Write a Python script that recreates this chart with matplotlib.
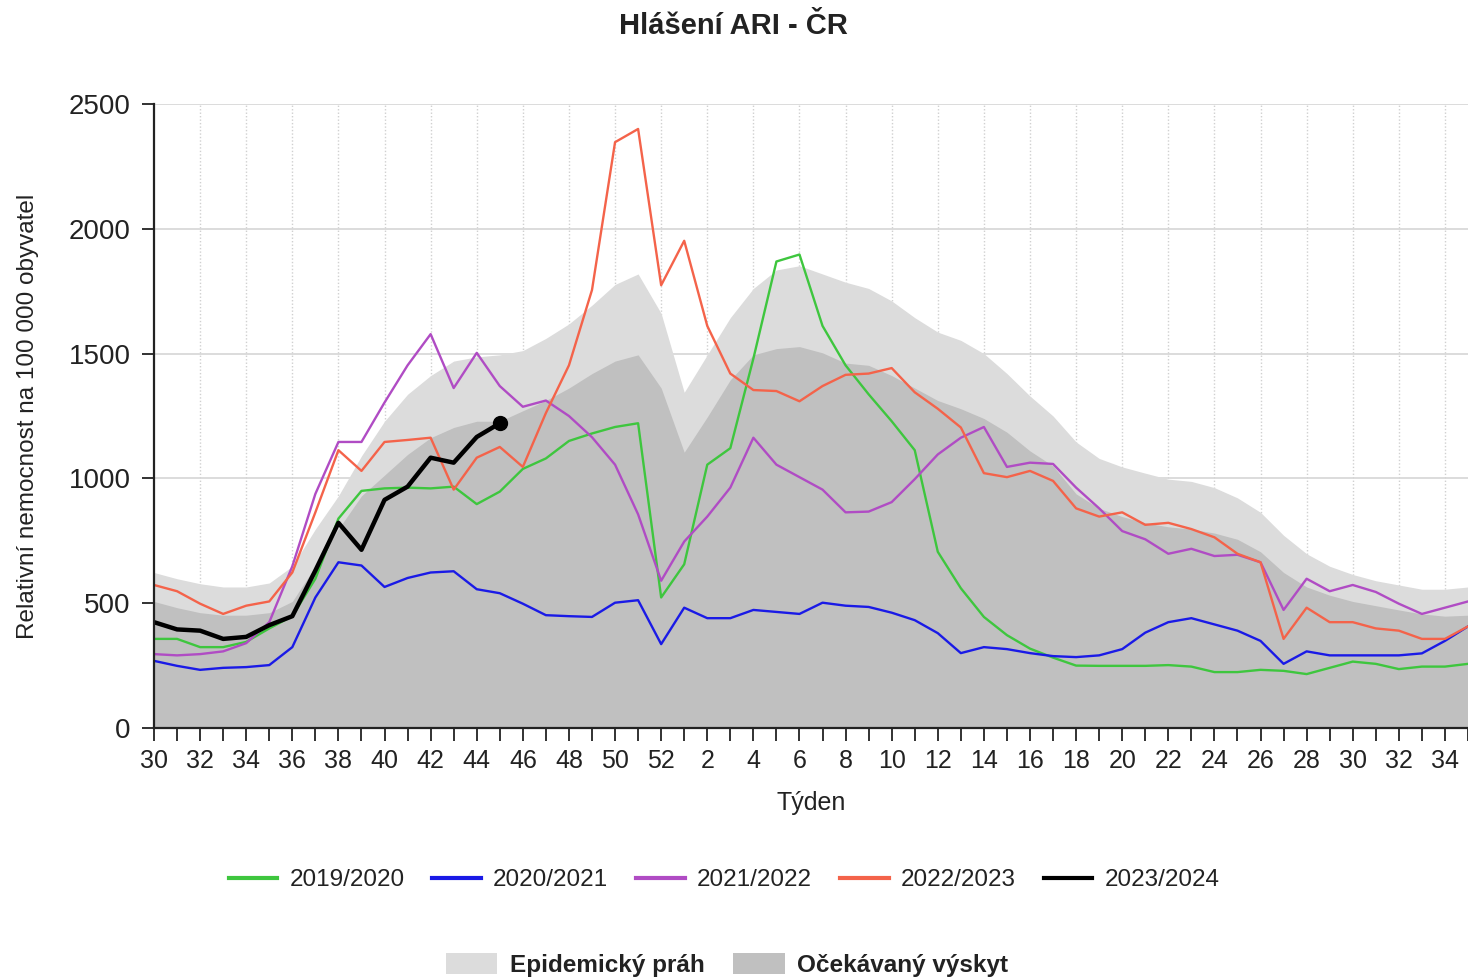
import numpy as np
import matplotlib
matplotlib.use("Agg")
import matplotlib.pyplot as plt
from matplotlib.lines import Line2D
from matplotlib.patches import Patch

plt.rcParams['font.family'] = ['Liberation Sans', 'DejaVu Sans']

# ---------------- data ----------------
weeks = list(range(30, 53)) + list(range(1, 36))

s2019 = [357, 357, 324, 324, 345, 399, 448, 598, 839, 950, 960, 963, 960, 967, 897, 947, 1038, 1080, 1150, 1180, 1206, 1221,
         523, 656, 1055, 1121, 1480, 1869, 1897, 1611, 1453, 1337, 1229, 1113, 706, 560, 445, 372, 318, 282,
         250, 249, 249, 249, 252, 246, 224, 224, 233, 229, 216, 241, 266, 257, 236, 246, 246, 257]
s2020 = [269, 249, 233, 241, 244, 252, 324, 523, 664, 651, 565, 601, 623, 628, 556, 540, 498, 452, 448, 445, 502, 512,
         336, 482, 440, 440, 473, 465, 457, 502, 490, 485, 462, 432, 380, 300, 324, 316, 300, 288,
         284, 291, 316, 382, 424, 440, 415, 390, 349, 257, 307, 291, 291, 291, 291, 299, 349, 407]
s2021 = [296, 291, 296, 307, 340, 424, 648, 938, 1146, 1146, 1304, 1453, 1578, 1362, 1503, 1370, 1287, 1312, 1250, 1165, 1055, 856,
         590, 747, 847, 963, 1163, 1055, 1005, 955, 864, 867, 905, 997, 1096, 1163, 1206, 1046, 1063, 1058,
         963, 880, 789, 756, 698, 718, 689, 694, 664, 473, 598, 548, 573, 545, 498, 457, 482, 507]
s2022 = [573, 548, 498, 457, 490, 507, 623, 864, 1113, 1030, 1146, 1154, 1163, 955, 1083, 1126, 1046, 1262, 1453, 1755, 2347, 2400,
         1774, 1952, 1611, 1420, 1354, 1350, 1309, 1370, 1415, 1420, 1442, 1345, 1279, 1204, 1021, 1005, 1030, 990,
         880, 847, 864, 814, 822, 797, 764, 698, 664, 357, 482, 424, 424, 399, 390, 357, 357, 407]
s2023 = [424, 395, 390, 357, 365, 412, 448, 631, 822, 714, 914, 967, 1083, 1063, 1166, 1221]

threshold = [623, 598, 578, 565, 565, 581, 648, 797, 930, 1090, 1229, 1337, 1412, 1470, 1487, 1495, 1512, 1561, 1619, 1694, 1777, 1819,
             1661, 1345, 1495, 1644, 1761, 1835, 1852, 1819, 1786, 1761, 1711, 1644, 1586, 1553, 1500, 1420, 1330, 1250,
             1146, 1080, 1046, 1021, 997, 988, 963, 922, 864, 772, 698, 648, 615, 590, 573, 556, 556, 565]
expected = [507, 482, 462, 452, 452, 462, 507, 648, 797, 930, 1013, 1096, 1163, 1204, 1229, 1229, 1271, 1312, 1362, 1420, 1470, 1495,
            1362, 1105, 1246, 1395, 1495, 1520, 1528, 1503, 1462, 1453, 1412, 1362, 1312, 1279, 1240, 1185, 1110, 1050,
            938, 880, 847, 822, 806, 797, 781, 756, 706, 623, 565, 532, 507, 490, 473, 457, 448, 452]

season_labels = ['2019/2020', '2020/2021', '2021/2022', '2022/2023', '2023/2024']
season_colors = ['#3ec63e', '#1a1ae6', '#b04cc4', '#f4634a', '#000000']
band_labels = ['Epidemický práh', 'Očekávaný výskyt']
band_colors = ['#dcdcdc', '#c0c0c0']

# ---------------- figure ----------------
W, H = 1468, 980
fig = plt.figure(figsize=(W / 100, H / 100), dpi=100)
ax = fig.add_axes([154 / W, 1 - 728 / H, (W - 154) / W, (728 - 104) / H])

x = np.arange(len(weeks))
ax.fill_between(x, threshold, 0, color=band_colors[0], lw=0, zorder=1)
ax.fill_between(x, expected, 0, color=band_colors[1], lw=0, zorder=1.1)

series = [s2019, s2020, s2021, s2022]
for s, c in zip(series, season_colors[:4]):
    ax.plot(x[:len(s)], s, color=c, lw=1.7, zorder=3)
ax.plot(x[:len(s2023)], s2023, color='black', lw=3.2, zorder=4)
ax.plot(x[len(s2023) - 1], s2023[-1], 'o', color='black', ms=10, zorder=5)

ax.set_xlim(0, len(weeks) - 1)
ax.set_ylim(0, 2500)
ax.set_axisbelow(True)

ax.set_yticks(np.arange(0, 2501, 500))
ax.set_xticks(x)
ax.set_xticklabels([str(w) if i % 2 == 0 else '' for i, w in enumerate(weeks)])
ax.tick_params(axis='both', direction='out', length=9, width=1.3, colors='#222222',
               labelcolor='#222222')
ax.tick_params(axis='x', pad=6, labelsize=18)
ax.tick_params(axis='y', pad=8, labelsize=20)

ax.yaxis.grid(True, color='#d6d6d6', lw=1.2, ls='-')
for i in range(2, len(weeks), 2):
    ax.axvline(i, color='#d0d0d0', lw=1.0, ls=(0, (1, 1.5)), zorder=0.5)

for sp in ['top', 'right']:
    ax.spines[sp].set_visible(False)
for sp in ['left', 'bottom']:
    ax.spines[sp].set_color('#222222')
    ax.spines[sp].set_linewidth(1.6)
    ax.spines[sp].set_zorder(6)

fig.text(733 / W, 1 - 26 / H, 'Hlášení ARI - ČR', ha='center', va='center',
         fontsize=21, fontweight='bold', color='#222222')
fig.text(28 / W, 1 - 416 / H, 'Relativní nemocnost na 100 000 obyvatel', rotation=90,
         ha='center', va='center', fontsize=17.5, color='#222222')
fig.text(811 / W, 1 - 803 / H, 'Týden', ha='center', va='center', fontsize=18, color='#222222')

line_handles = [Line2D([0], [0], color=c, lw=3) for c in season_colors]
leg1 = fig.legend(line_handles, season_labels, loc='center', bbox_to_anchor=(724 / W, 1 - 880 / H),
                  ncol=5, frameon=False, fontsize=17.5, handlelength=2.0, handletextpad=0.5,
                  columnspacing=1.15, labelcolor='#222222')
patch_handles = [Patch(facecolor=c, edgecolor='none') for c in band_colors]
leg2 = fig.legend(patch_handles, band_labels, loc='center', bbox_to_anchor=(727 / W, 1 - 965 / H),
                  ncol=2, frameon=False, handlelength=2.1, handleheight=0.95, handletextpad=0.5,
                  columnspacing=1.2, prop={'size': 17.5, 'weight': 'bold'}, labelcolor='#222222')

fig.savefig('out.png', dpi=100)
